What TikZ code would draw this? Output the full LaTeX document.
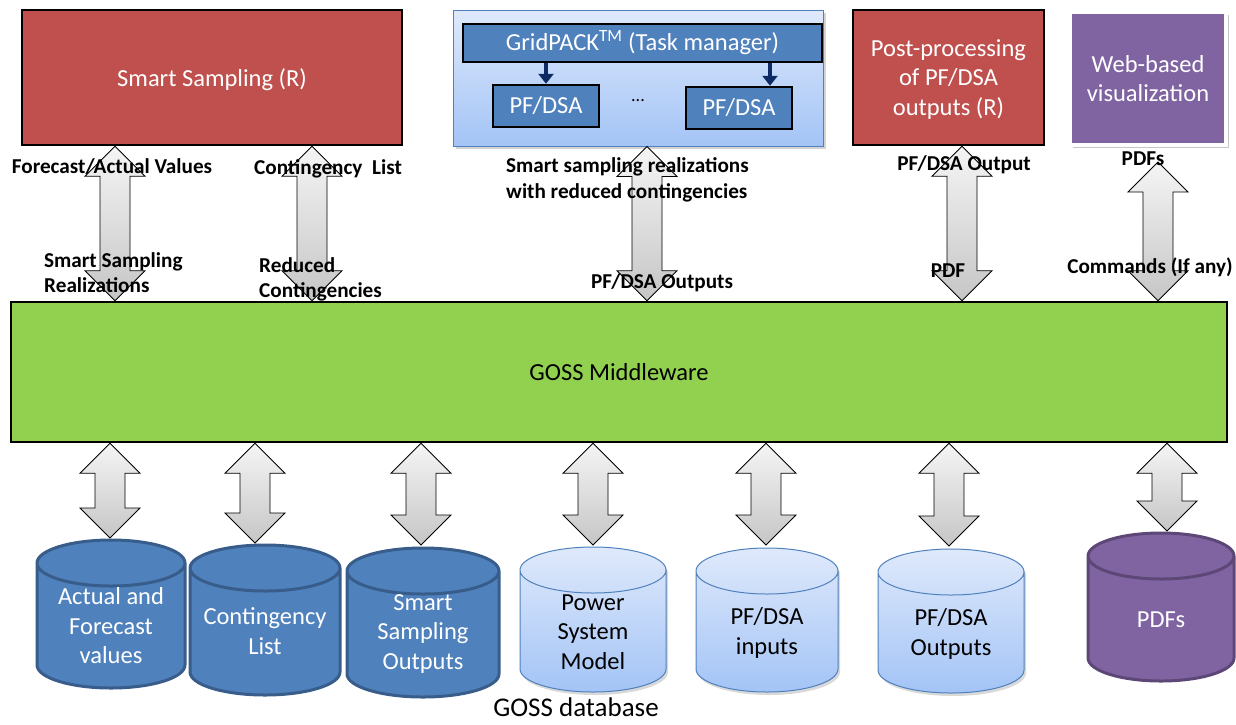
\documentclass[tikz,border=0pt]{standalone}
\usepackage{fontspec}
\setmainfont{Carlito}
\usepackage{tikz}
\usetikzlibrary{calc, arrows.meta, shadows}

\definecolor{ssred}{HTML}{C0504D}
\definecolor{gossgreen}{HTML}{92D050}
\definecolor{dbblue}{HTML}{4F81BD}
\definecolor{dbblueline}{HTML}{385D8A}
\definecolor{webpurple}{HTML}{8064A2}
\definecolor{webpurpleline}{HTML}{5C4776}
\definecolor{lightbluetop}{HTML}{DFE9FB}
\definecolor{lightbluebot}{HTML}{A3C4F6}
\definecolor{navy}{HTML}{0E2A64}

\tikzset{
	bigfont/.style={font=\fontsize{24.5}{29.5}\selectfont},
	lbl/.style={font=\bfseries\fontsize{21.2}{25.5}\selectfont, inner sep=0pt, align=left},
	redbox/.style={draw=black, line width=2.5pt, fill=ssred, text=white, align=center, inner sep=0pt, text depth=0pt, bigfont},
	bluebox/.style={draw=black, line width=2.5pt, fill=dbblue, text=white, align=center, inner sep=0pt, bigfont},
	container/.style={draw=dbblue, line width=1pt, top color=lightbluetop, bottom color=lightbluebot, drop shadow={shadow xshift=3pt, shadow yshift=-3pt, opacity=0.35}},
	webbox/.style={draw=white, line width=4pt, fill=webpurple, text=white, align=center, inner sep=0pt, text depth=0pt, bigfont, drop shadow={shadow xshift=3pt, shadow yshift=-3pt, opacity=0.45}},
	gossbox/.style={draw=black, line width=2.5pt, fill=gossgreen, text depth=0pt, bigfont},
	taskarrow/.style={draw=navy, line width=3.5pt, -{Triangle[length=10pt, width=15pt]}},
	dblarrow/.style={draw=black, line width=0.8pt, top color=gray!8, bottom color=gray!45},
	cyldark/.style={fill=dbblue, draw=dbblueline, line width=3pt},
	cyllight/.style={draw=dbblue, line width=1pt, top color=lightbluetop, bottom color=lightbluebot, drop shadow={shadow xshift=2pt, shadow yshift=-3pt, opacity=0.3}},
	cylpurple/.style={fill=webpurple, draw=webpurpleline, line width=3pt},
	cyltext/.style={bigfont, align=center, inner sep=0pt}
}

\newcommand{\blockarrow}[2]{%
	\path[dblarrow] (#1) -- ++(30,-30) -- ++(-15,0) -- ($(#2)+(15,30)$) -- ++(15,0) -- (#2) -- ++(-30,30) -- ++(15,0) -- ($(#1)+(-15,-30)$) -- ++(-15,0) -- cycle;}

\begin{document}
\begin{tikzpicture}[x=1pt, y=1pt]
	\useasboundingbox (0,0) rectangle (1236,-724);

	\node[redbox, minimum width=380pt, minimum height=135pt] (ss) at (212,-77.5) {Smart Sampling (R)};
	\node[container, minimum width=370pt, minimum height=136pt] (grid) at (638,-78) {};
	\node[bluebox, minimum width=359pt, minimum height=38pt] (gp) at (642.5,-43) {GridPACK\textsuperscript{TM} (Task manager)};
	\node[bluebox, minimum width=106pt, minimum height=42pt] (pf1) at (546,-106) {PF/DSA};
	\node[bluebox, minimum width=106pt, minimum height=42pt] (pf2) at (739,-108) {PF/DSA};
	\node[font=\fontsize{18}{18}\selectfont] (dots) at (638,-101) {...};
	\node[redbox, minimum width=191pt, minimum height=135pt] (post) at (948.5,-77.5) {Post-processing\\of PF/DSA\\outputs (R)};
	\node[webbox, minimum width=156pt, minimum height=133pt] (web) at (1148,-78.5) {Web-based\\visualization};
	\node[gossbox, minimum width=1216pt, minimum height=140pt] (goss) at (619,-372) {GOSS Middleware};

	\coordinate (k1) at (546,0);
	\coordinate (k2) at (770,0);
	\draw[taskarrow] (gp.south -| k1) -- (pf1.north -| k1);
	\draw[taskarrow] (gp.south -| k2) -- (pf2.north -| k2);

	\foreach \x [count=\n] in {115, 312, 647, 962, 1158}
		\coordinate (a\n) at (\x,0);
	\coordinate (w5) at ($(web.south -| a5)+(0,-15)$);

	\blockarrow{ss.south -| a1}{goss.north -| a1}
	\blockarrow{ss.south -| a2}{goss.north -| a2}
	\blockarrow{grid.south -| a3}{goss.north -| a3}
	\blockarrow{post.south -| a4}{goss.north -| a4}
	\blockarrow{w5}{goss.north -| a5}

	\begin{scope}[every node/.style={lbl}]
		\node (fa) at (112,-167) {Forecast/Actual Values};
		\node (cl) at (328,-169) {Contingency\ \ List};
		\node[anchor=west] (ssr) at (44,-272.5) {Smart Sampling\\Realizations};
		\node[anchor=west] (rc) at (259,-279.5) {Reduced\\Contingencies};
		\node[anchor=west] (rwc) at (506,-180) {Smart sampling realizations\\with reduced contingencies};
		\node (pfo) at (662,-283) {PF/DSA Outputs};
		\node (pfout) at (964,-165) {PF/DSA Output};
		\node (pdf) at (948,-271) {PDF};
		\node (pdfs) at (1143,-159) {PDFs};
		\node (cmd) at (1150,-267) {Commands (If any)};
	\end{scope}

	\foreach \cx/\rx/\yt/\yb/\ty/\kind/\tc/\txt [count=\i] in {
		111/74/540/688/626/cyldark/white/{Actual and\\Forecast\\values},
		265/75/545/695/631/cyldark/white/{Contingency\\List},
		423/76/548/697/634/cyldark/white/{Smart\\Sampling\\Outputs},
		593/73/547/692/632/cyllight/black/{Power\\System\\Model},
		767/71/548/692/633/cyllight/black/{PF/DSA\\inputs},
		951/73/549/693/634/cyllight/black/{PF/DSA\\Outputs},
		1161/73/533/681/620/cylpurple/white/{PDFs}}
	{
		\path[\kind] ({\cx-\rx},{-\yt-23}) -- ({\cx-\rx},{-\yb+23}) arc[start angle=180, end angle=360, x radius=\rx, y radius=23]
			-- ({\cx+\rx},{-\yt-23}) arc[start angle=0, end angle=180, x radius=\rx, y radius=23] -- cycle
			({\cx-\rx},{-\yt-23}) arc[start angle=180, end angle=360, x radius=\rx, y radius=23];
		\node[cyltext, text=\tc] (c\i) at (\cx,-\ty) {\txt};
	}

	\foreach \x/\y [count=\i] in {110/538, 255/543, 421/545, 593/545, 766/545, 949/546, 1167/531}
	{
		\coordinate (b\i) at (\x,-\y);
		\blockarrow{goss.south -| b\i}{b\i}
	}

	\node[font=\fontsize{27}{27}\selectfont, inner sep=0pt, anchor=base] (gdb) at (576,-716) {GOSS database};
\end{tikzpicture}
\end{document}
